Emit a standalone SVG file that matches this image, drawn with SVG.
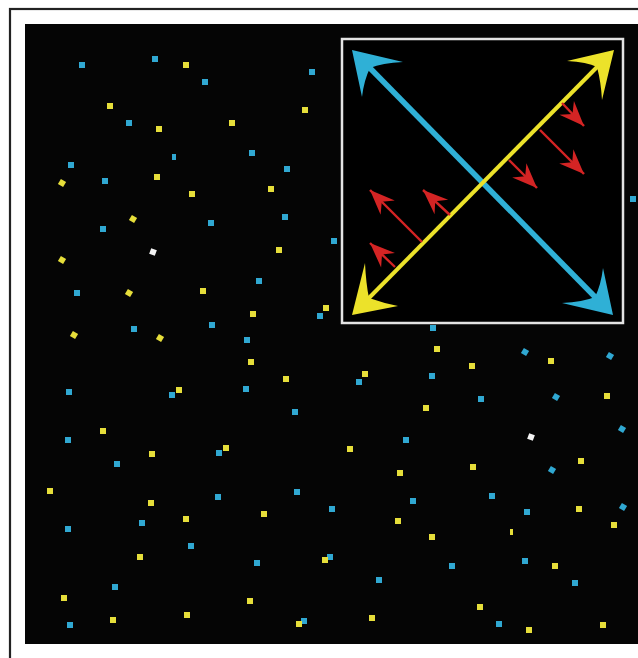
<svg xmlns="http://www.w3.org/2000/svg" width="638" height="658" viewBox="0 0 638 658">
<style>
.b{fill:#30a8d2}
.y{fill:#e6de3a}
.w{fill:#f4f4f4}
.red{stroke:#d42424;stroke-width:2.4;fill:none;marker-end:url(#rh)}
</style>
<defs>
<marker id="rh" markerUnits="userSpaceOnUse" markerWidth="30" markerHeight="30" refX="0" refY="0" viewBox="-16 -8 18 16" orient="auto" overflow="visible">
<path d="M0,0 L-15,-6 L-10,0 L-15,6 Z" fill="#d42424"/>
</marker>
</defs>
<rect width="638" height="658" fill="#fff"/>
<rect x="10" y="9" width="660" height="680" fill="none" stroke="#222" stroke-width="2.2"/>
<rect x="25" y="24" width="613" height="620" fill="#050505"/>
<g id="dots">
<rect class="b" x="79" y="62" width="6" height="6"/>
<rect class="b" x="152" y="56" width="6" height="6"/>
<rect class="y" x="183" y="62" width="6" height="6"/>
<rect class="b" x="202" y="79" width="6" height="6"/>
<rect class="y" x="107" y="103" width="6" height="6"/>
<rect class="b" x="126" y="120" width="6" height="6"/>
<rect class="y" x="156" y="126" width="6" height="6"/>
<rect class="b" x="172" y="154" width="4" height="6"/>
<rect class="b" x="68" y="162" width="6" height="6"/>
<rect class="y" x="59" y="180" width="6" height="6" transform="rotate(30 62 183)"/>
<rect class="b" x="102" y="178" width="6" height="6"/>
<rect class="y" x="154" y="174" width="6" height="6"/>
<rect class="y" x="189" y="191" width="6" height="6"/>
<rect class="y" x="130" y="216" width="6" height="6" transform="rotate(30 133 219)"/>
<rect class="b" x="208" y="220" width="6" height="6"/>
<rect class="b" x="309" y="69" width="6" height="6"/>
<rect class="y" x="302" y="107" width="6" height="6"/>
<rect class="y" x="229" y="120" width="6" height="6"/>
<rect class="b" x="249" y="150" width="6" height="6"/>
<rect class="b" x="284" y="166" width="6" height="6"/>
<rect class="y" x="268" y="186" width="6" height="6"/>
<rect class="b" x="282" y="214" width="6" height="6"/>
<rect class="b" x="630" y="196" width="6" height="6"/>
<rect class="b" x="100" y="226" width="6" height="6"/>
<rect class="w" x="150" y="249" width="6" height="6" transform="rotate(20 153 252)"/>
<rect class="y" x="59" y="257" width="6" height="6" transform="rotate(30 62 260)"/>
<rect class="b" x="74" y="290" width="6" height="6"/>
<rect class="y" x="126" y="290" width="6" height="6" transform="rotate(30 129 293)"/>
<rect class="y" x="200" y="288" width="6" height="6"/>
<rect class="b" x="131" y="326" width="6" height="6"/>
<rect class="b" x="209" y="322" width="6" height="6"/>
<rect class="y" x="71" y="332" width="6" height="6" transform="rotate(30 74 335)"/>
<rect class="y" x="157" y="335" width="6" height="6" transform="rotate(30 160 338)"/>
<rect class="b" x="66" y="389" width="6" height="6"/>
<rect class="b" x="169" y="392" width="6" height="6"/>
<rect class="y" x="176" y="387" width="6" height="6"/>
<rect class="b" x="331" y="238" width="6" height="6"/>
<rect class="y" x="276" y="247" width="6" height="6"/>
<rect class="b" x="256" y="278" width="6" height="6"/>
<rect class="y" x="250" y="311" width="6" height="6"/>
<rect class="y" x="323" y="305" width="6" height="6"/>
<rect class="b" x="317" y="313" width="6" height="6"/>
<rect class="b" x="244" y="337" width="6" height="6"/>
<rect class="y" x="248" y="359" width="6" height="6"/>
<rect class="y" x="283" y="376" width="6" height="6"/>
<rect class="b" x="243" y="386" width="6" height="6"/>
<rect class="y" x="362" y="371" width="6" height="6"/>
<rect class="b" x="356" y="379" width="6" height="6"/>
<rect class="b" x="292" y="409" width="6" height="6"/>
<rect class="y" x="423" y="405" width="6" height="6"/>
<rect class="b" x="429" y="373" width="6" height="6"/>
<rect class="b" x="430" y="325" width="6" height="6"/>
<rect class="y" x="434" y="346" width="6" height="6"/>
<rect class="y" x="469" y="363" width="6" height="6"/>
<rect class="b" x="522" y="349" width="6" height="6" transform="rotate(30 525 352)"/>
<rect class="y" x="548" y="358" width="6" height="6"/>
<rect class="b" x="607" y="353" width="6" height="6" transform="rotate(30 610 356)"/>
<rect class="b" x="478" y="396" width="6" height="6"/>
<rect class="b" x="553" y="394" width="6" height="6" transform="rotate(30 556 397)"/>
<rect class="y" x="604" y="393" width="6" height="6"/>
<rect class="b" x="619" y="426" width="6" height="6" transform="rotate(30 622 429)"/>
<rect class="y" x="100" y="428" width="6" height="6"/>
<rect class="b" x="65" y="437" width="6" height="6"/>
<rect class="y" x="149" y="451" width="6" height="6"/>
<rect class="b" x="114" y="461" width="6" height="6"/>
<rect class="y" x="47" y="488" width="6" height="6"/>
<rect class="y" x="148" y="500" width="6" height="6"/>
<rect class="b" x="65" y="526" width="6" height="6"/>
<rect class="b" x="139" y="520" width="6" height="6"/>
<rect class="y" x="183" y="516" width="6" height="6"/>
<rect class="b" x="188" y="543" width="6" height="6"/>
<rect class="y" x="137" y="554" width="6" height="6"/>
<rect class="b" x="112" y="584" width="6" height="6"/>
<rect class="y" x="61" y="595" width="6" height="6"/>
<rect class="y" x="184" y="612" width="6" height="6"/>
<rect class="y" x="110" y="617" width="6" height="6"/>
<rect class="b" x="67" y="622" width="6" height="6"/>
<rect class="y" x="223" y="445" width="6" height="6"/>
<rect class="b" x="216" y="450" width="6" height="6"/>
<rect class="y" x="347" y="446" width="6" height="6"/>
<rect class="b" x="403" y="437" width="6" height="6"/>
<rect class="y" x="397" y="470" width="6" height="6"/>
<rect class="b" x="215" y="494" width="6" height="6"/>
<rect class="b" x="294" y="489" width="6" height="6"/>
<rect class="b" x="329" y="506" width="6" height="6"/>
<rect class="y" x="261" y="511" width="6" height="6"/>
<rect class="b" x="410" y="498" width="6" height="6"/>
<rect class="y" x="395" y="518" width="6" height="6"/>
<rect class="b" x="254" y="560" width="6" height="6"/>
<rect class="b" x="327" y="554" width="6" height="6"/>
<rect class="y" x="322" y="557" width="6" height="6"/>
<rect class="b" x="376" y="577" width="6" height="6"/>
<rect class="y" x="247" y="598" width="6" height="6"/>
<rect class="y" x="369" y="615" width="6" height="6"/>
<rect class="b" x="301" y="618" width="6" height="6"/>
<rect class="y" x="296" y="621" width="6" height="6"/>
<rect class="w" x="528" y="434" width="6" height="6" transform="rotate(20 531 437)"/>
<rect class="y" x="470" y="464" width="6" height="6"/>
<rect class="b" x="549" y="467" width="6" height="6" transform="rotate(30 552 470)"/>
<rect class="y" x="578" y="458" width="6" height="6"/>
<rect class="b" x="489" y="493" width="6" height="6"/>
<rect class="b" x="524" y="509" width="6" height="6"/>
<rect class="y" x="576" y="506" width="6" height="6"/>
<rect class="b" x="620" y="504" width="6" height="6" transform="rotate(30 623 507)"/>
<rect class="y" x="611" y="522" width="6" height="6"/>
<rect class="y" x="510" y="529" width="3" height="6"/>
<rect class="y" x="429" y="534" width="6" height="6"/>
<rect class="b" x="449" y="563" width="6" height="6"/>
<rect class="b" x="522" y="558" width="6" height="6"/>
<rect class="y" x="552" y="563" width="6" height="6"/>
<rect class="b" x="572" y="580" width="6" height="6"/>
<rect class="y" x="477" y="604" width="6" height="6"/>
<rect class="b" x="496" y="621" width="6" height="6"/>
<rect class="y" x="526" y="627" width="6" height="6"/>
<rect class="y" x="600" y="622" width="6" height="6"/>
</g>
<g id="inset">
<rect x="342" y="39" width="281" height="284" fill="#000" stroke="#e4e4e4" stroke-width="2.5"/>
</g>
<g id="connectors">
<g id="blue-arrow">
<line x1="364" y1="62" x2="601" y2="303" stroke="#2fb0d6" stroke-width="5.5"/>
<path d="M352,50 L403,62 Q382,63 370,68 Q364,80 362,97 Z" fill="#2fb0d6"/>
<path d="M613,315 L562,303 Q583,302 595,297 Q601,285 603,268 Z" fill="#2fb0d6"/>
</g>
<g id="yellow-arrow">
<line x1="602" y1="62" x2="364" y2="303" stroke="#ece22a" stroke-width="4"/>
<path d="M614,50 L567,61 Q587,62 597,67 Q601,82 602,100 Z" fill="#ece22a"/>
<path d="M352,315 L365,263 Q366,284 369,298 Q383,303 398,306 Z" fill="#ece22a"/>
</g>
<g id="red-arrows">
<line class="red" x1="562" y1="103" x2="584" y2="126"/>
<line class="red" x1="540" y1="130" x2="584" y2="174"/>
<line class="red" x1="509" y1="160" x2="537" y2="188"/>
<line class="red" x1="422" y1="242" x2="370" y2="190"/>
<line class="red" x1="450" y1="215" x2="423" y2="190"/>
<line class="red" x1="395" y1="267" x2="370" y2="243"/>
</g>
</g>
</svg>
